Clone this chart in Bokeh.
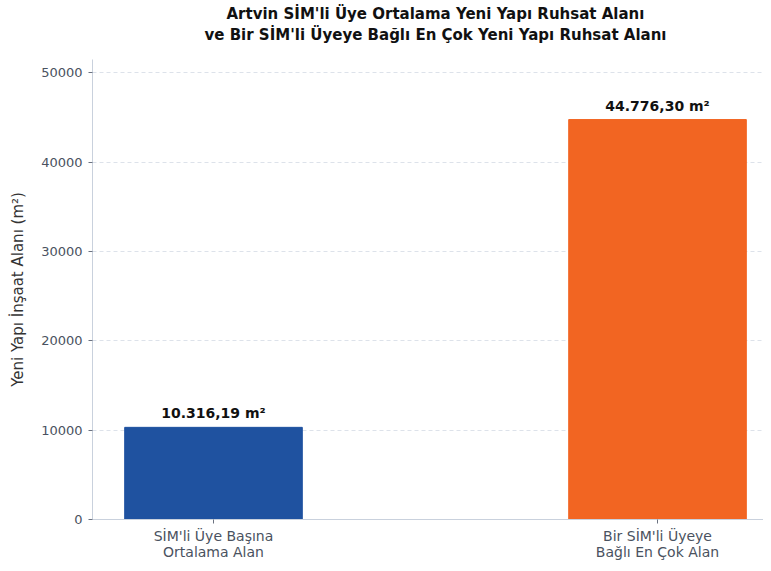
from bokeh.plotting import figure
from bokeh.models import ColumnDataSource, FixedTicker, Range1d, LabelSet, Title
from bokeh.core.properties import value
from bokeh.embed import file_html
from bokeh.resources import INLINE

title_lines = ["Artvin SİM'li Üye Ortalama Yeni Yapı Ruhsat Alanı",
               "ve Bir SİM'li Üyeye Bağlı En Çok Yeni Yapı Ruhsat Alanı"]
categories = ["SİM'li Üye Başına\nOrtalama Alan", "Bir SİM'li Üyeye\nBağlı En Çok Alan"]
values = [10316.19, 44776.30]
value_labels = ["10.316,19 m²", "44.776,30 m²"]
colors = ["#1f52a0", "#f26522"]
y_ticks = [0, 10000, 20000, 30000, 40000, 50000]

xs = list(range(len(categories)))
src = ColumnDataSource(dict(x=xs, top=values, lab=value_labels, color=colors))

p = figure(width=763, height=563, output_backend="svg", toolbar_location=None,
           x_range=Range1d(-0.2725, 1.2387), y_range=Range1d(0, 51500),
           min_border_left=92, min_border_right=0, min_border_bottom=40, min_border_top=59)

def style_title(t):
    t.align = "left"
    t.text_font = "DejaVu Sans"
    t.text_font_size = "15px"
    t.text_font_style = "bold"
    t.text_color = "#111111"

# spacer between the frame and the second title line
spacer = Title(text=" ", text_font_size="1px", standoff=12)
p.add_layout(spacer, "above")

t2 = Title(text=title_lines[1])
style_title(t2)
t2.offset = 112
t2.standoff = 1
p.add_layout(t2, "above")

p.title.text = title_lines[0]
style_title(p.title)
p.title.offset = 134
p.title.standoff = 1

p.vbar(x="x", top="top", width=0.4, color="color", source=src)
labels = LabelSet(x="x", y="top", text="lab", source=src, text_align="center",
                  text_baseline="bottom", y_offset=6, text_font=value("DejaVu Sans"),
                  text_font_size="14px", text_font_style="bold", text_color="#111111")
p.add_layout(labels)

p.xaxis.ticker = FixedTicker(ticks=xs)
p.xaxis.major_label_overrides = {i: c for i, c in zip(xs, categories)}
p.xaxis.major_label_text_font_size = "14px"
p.xaxis.major_label_text_line_height = 1.05
p.xaxis.major_label_standoff = 4
p.yaxis.ticker = FixedTicker(ticks=y_ticks)
p.yaxis.axis_label = "Yeni Yapı İnşaat Alanı (m²)"
p.yaxis.axis_label_text_font = "DejaVu Sans"
p.yaxis.axis_label_text_font_size = "15px"
p.yaxis.axis_label_text_font_style = "normal"
p.yaxis.axis_label_text_color = "#333333"
p.yaxis.axis_label_standoff = 11
p.yaxis.major_label_standoff = 6
p.yaxis.major_label_text_font_size = "13px"

for ax in (p.xaxis, p.yaxis):
    ax.major_label_text_font = "DejaVu Sans"
    ax.major_label_text_color = "#4a5260"
    ax.axis_line_color = "#c9d1dd"
    ax.major_tick_line_color = "#6b7280"
    ax.major_tick_out = 4
    ax.major_tick_in = 0
    ax.minor_tick_line_color = None

p.xgrid.grid_line_color = None
p.ygrid.grid_line_color = "#dde2ea"
p.ygrid.grid_line_dash = "4 3"
p.outline_line_color = None

open("out.html", "w").write(file_html(p, INLINE))
